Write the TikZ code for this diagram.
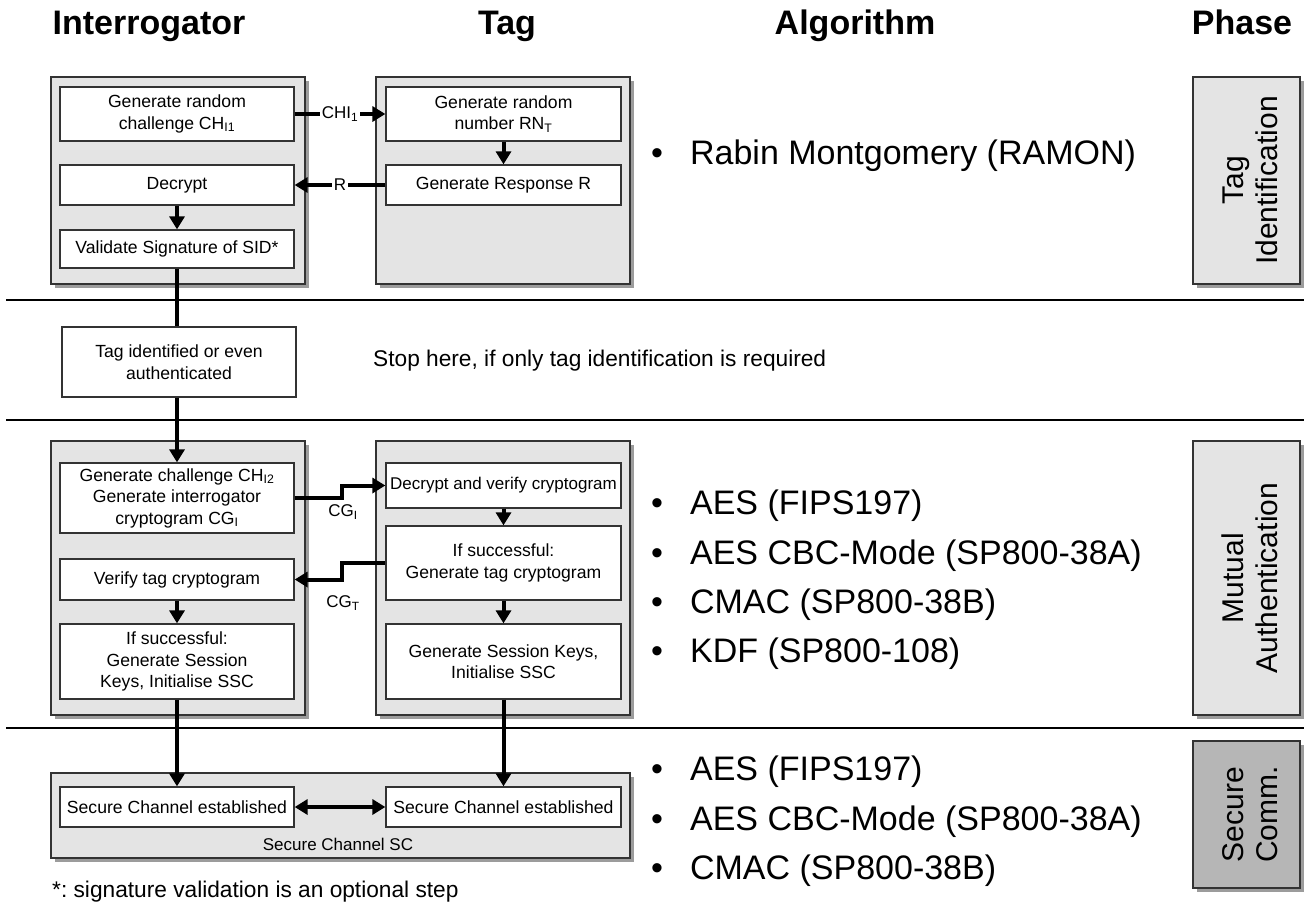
\documentclass[tikz,border=0pt]{standalone}
\usepackage{fontspec}
\setmainfont{Liberation Sans}
\usetikzlibrary{arrows.meta,calc}
\definecolor{panelgray}{HTML}{E4E4E4}
\definecolor{shadowgray}{HTML}{9C9C9C}
\definecolor{darkphase}{HTML}{B6B6B6}
\definecolor{edgegray}{HTML}{333333}
\newcommand\mypanel[5]{%
  \fill[shadowgray] (#1+4,#2+4) rectangle (#3+4,#4+4);
  \filldraw[fill=#5,draw=edgegray,line width=1.3pt] (#1,#2) rectangle (#3,#4);}
\frenchspacing
\begin{document}
\begin{tikzpicture}[x=1pt,y=-1pt,
  box/.style={draw=edgegray, line width=1.3pt, fill=white, minimum width=234pt,
    align=center, font=\fontsize{17.6}{21.5}\selectfont, inner sep=2pt},
  conn/.style={line width=4pt, -{Triangle[length=13pt,width=15pt]}},
  dconn/.style={line width=4pt, {Triangle[length=13pt,width=15pt]}-{Triangle[length=13pt,width=15pt]}},
  plainconn/.style={line width=4pt},
  lbl/.style={font=\fontsize{17}{20}\selectfont, inner sep=2pt},
  head/.style={font=\bfseries\fontsize{34}{40}\selectfont, anchor=base, inner sep=0pt},
  bul/.style={font=\fontsize{34}{40}\selectfont, anchor=base west, inner sep=0pt},
  note/.style={font=\fontsize{22.7}{27}\selectfont, anchor=base west, inner sep=0pt},
  phtext/.style={font=\fontsize{30}{34}\selectfont, align=center, rotate=90, inner sep=0pt},
  sep/.style={line width=2pt}
]
\useasboundingbox (0,0) rectangle (1304,906);

% headings
\node[head] (h1) at (149,34) {Interrogator};
\node[head] (h2) at (507,34) {Tag};
\node[head] (h3) at (855,34) {Algorithm};
\node[head] (h4) at (1242,34) {Phase};

% separators
\draw[sep] (6,300) -- (1304,300);
\draw[sep] (6,420) -- (1304,420);
\draw[sep] (6,728) -- (1304,728);

% panels
\mypanel{51}{77}{305}{284}{panelgray}
\mypanel{376}{77}{630}{284}{panelgray}
\mypanel{51}{441}{305}{715}{panelgray}
\mypanel{376}{441}{630}{715}{panelgray}
\mypanel{51}{773}{630}{858}{panelgray}
\mypanel{1193}{77}{1300}{284}{panelgray}
\mypanel{1193}{441}{1300}{715}{panelgray}
\mypanel{1193}{741}{1300}{888}{darkphase}

% phase labels
\node[phtext] (ph1) at (1250,180.5) {Tag\\Identification};
\node[phtext] (ph2) at (1250,578) {Mutual\\Authentication};
\node[phtext] (ph3) at (1250,814.5) {Secure\\Comm.};

% tag identification
\node[box, minimum height=54pt] (i1a) at (177,114) {Generate random\\challenge CH\textsubscript{I1}};
\node[box, minimum height=40pt] (i1b) at (177,185) {Decrypt};
\node[box, minimum height=38pt] (i1c) at (177,249) {Validate Signature of SID*};
\node[box, minimum height=54pt, minimum width=235pt] (t1a) at (503.5,114) {Generate random\\number RN\textsubscript{T}};
\node[box, minimum height=40pt, minimum width=235pt] (t1b) at (503.5,185) {Generate Response R};

\draw[conn] (i1a.east) -- node[lbl, fill=white] (lchi) {CHI\textsubscript{1}} (t1a.west);
\draw[conn] (t1b.west) -- node[lbl, fill=white] (lr) {R} (i1b.east);
\draw[conn] (t1a.south) -- (t1b.north);
\draw[conn] (i1b.south) -- (i1c.north);

% intermediate
\node[box, minimum height=70pt] (tid) at (179,362) {Tag identified or even\\authenticated};
\node[note] (stop) at (373,366) {Stop here, if only tag identification is required};
\draw[plainconn] (i1c.south) -- (i1c.south |- tid.north);

% mutual authentication
\node[box, minimum height=70pt] (i2a) at (177,498) {Generate challenge CH\textsubscript{I2}\\Generate interrogator\\cryptogram CG\textsubscript{I}};
\node[box, minimum height=41pt] (i2b) at (177,579.5) {Verify tag cryptogram};
\node[box, minimum height=75pt] (i2c) at (177,661.5) {If successful:\\Generate Session\\Keys, Initialise SSC};
\node[box, minimum height=45pt, minimum width=235pt, font=\fontsize{17}{20}\selectfont] (t2a) at (503.5,485.5) {Decrypt and verify cryptogram};
\node[box, minimum height=74pt, minimum width=235pt] (t2b) at (503.5,563) {If successful:\\Generate tag cryptogram};
\node[box, minimum height=75pt, minimum width=235pt] (t2c) at (503.5,661.5) {Generate Session Keys,\\Initialise SSC};

\draw[conn] (i1c.south |- tid.south) -- (i2a.north);
\coordinate (cgx) at (342,0);
\draw[conn] (i2a.east) -| (cgx |- t2a.west) -- (t2a.west);
\draw[conn] (t2b.west) -| (cgx |- i2b.east) -- (i2b.east);
\node[lbl] (lcgi) at (343,512) {CG\textsubscript{I}};
\node[lbl] (lcgt) at (343,603) {CG\textsubscript{T}};
\draw[conn] (t2a.south) -- (t2b.north);
\draw[conn] (t2b.south) -- (t2c.north);
\draw[conn] (i2b.south) -- (i2c.north);

% secure channel
\node[box, minimum height=40pt] (sc1) at (177,807) {Secure Channel established};
\node[box, minimum height=40pt, minimum width=235pt] (sc2) at (503.5,807) {Secure Channel established};
\node[lbl] (sclbl) at (338,844) {Secure Channel SC};
\draw[conn] (i2c.south) -- (sc1.north);
\draw[conn] (t2c.south) -- (sc2.north);
\draw[dconn] (sc1.east) -- (sc2.west);

% algorithms
\node[bul] (b1) at (651,164) {•\hspace{27pt}Rabin Montgomery (RAMON)};
\node[bul] (b2) at (651,514) {•\hspace{27pt}AES (FIPS197)};
\node[bul] (b3) at (651,564) {•\hspace{27pt}AES CBC-Mode (SP800-38A)};
\node[bul] (b4) at (651,613) {•\hspace{27pt}CMAC (SP800-38B)};
\node[bul] (b5) at (651,662) {•\hspace{27pt}KDF (SP800-108)};
\node[bul] (b6) at (651,780) {•\hspace{27pt}AES (FIPS197)};
\node[bul] (b7) at (651,830) {•\hspace{27pt}AES CBC-Mode (SP800-38A)};
\node[bul] (b8) at (651,879) {•\hspace{27pt}CMAC (SP800-38B)};

% footnote
\node[note] (fn) at (52,897) {*: signature validation is an optional step};
\end{tikzpicture}
\end{document}
